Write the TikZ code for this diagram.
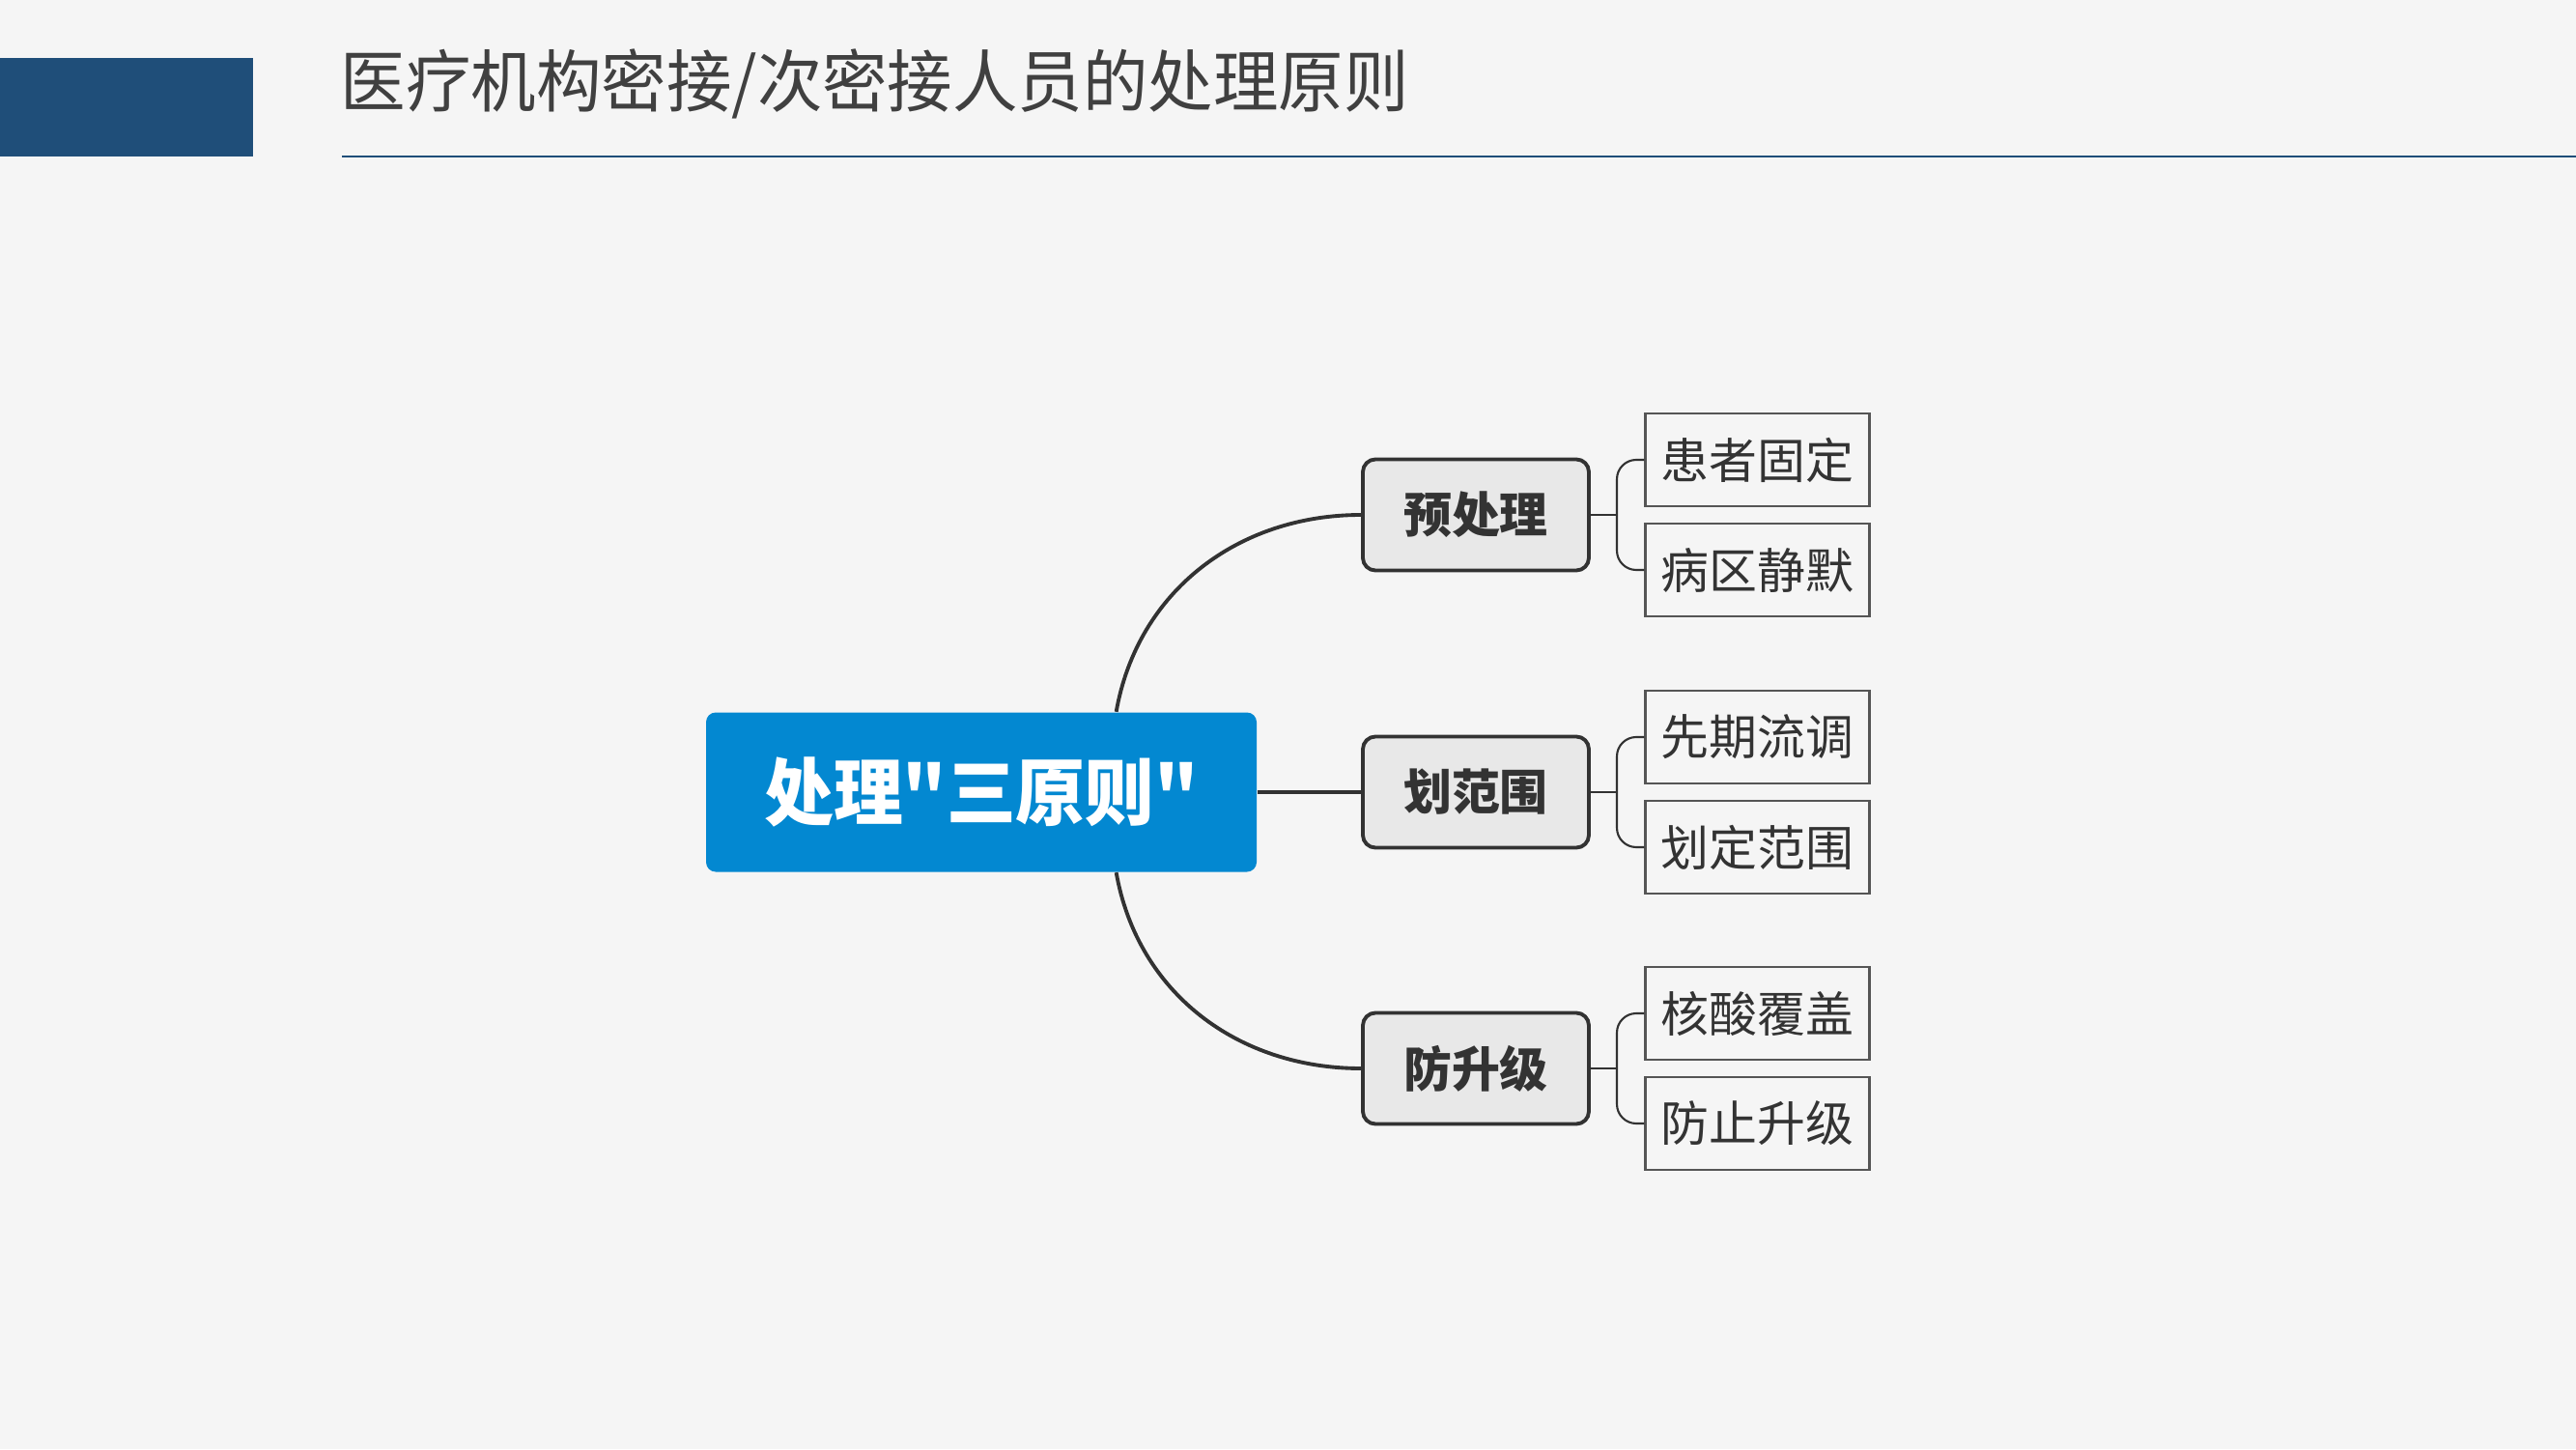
\documentclass[tikz,border=0pt]{standalone}
\usepackage{fontspec}
\setmainfont{Noto Sans CJK SC}
\newfontfamily\corefont{Noto Sans CJK SC}[Ligatures=TeXOff]

\definecolor{pagebg}{RGB}{245,245,245}
\definecolor{titleblue}{RGB}{31,78,121}
\definecolor{titlegray}{RGB}{64,64,64}
\definecolor{coreblue}{RGB}{3,136,209}
\definecolor{topicgray}{RGB}{232,232,232}
\definecolor{edgedark}{RGB}{50,50,50}
\definecolor{leafedge}{RGB}{85,85,85}
\definecolor{textdark}{RGB}{51,51,51}

\begin{document}
\begin{tikzpicture}[
  core/.style={fill=coreblue,rounded corners=0.1cm,minimum width=6.0cm,minimum height=1.65cm,
    text=white,font=\corefont\bfseries\fontsize{21.5}{26}\selectfont},
  topic/.style={draw=edgedark,line width=1.1pt,fill=topicgray,rounded corners=0.13cm,
    minimum width=2.34cm,minimum height=1.15cm,text=textdark,font=\bfseries\fontsize{14.2}{17}\selectfont},
  leaf/.style={draw=leafedge,line width=0.6pt,fill=pagebg,minimum width=2.32cm,minimum height=0.96cm,
    text=textdark,font=\fontsize{14.2}{17}\selectfont},
  branch/.style={draw=edgedark,line width=1.1pt},
  twig/.style={draw=edgedark,line width=0.6pt,rounded corners=0.2cm}
]
% Page and heading
\useasboundingbox (0,0) rectangle (26.67,15);
\fill[pagebg] (0,0) rectangle (26.67,15);
\fill[titleblue] (0,13.38) rectangle (2.62,14.40);
\draw[titleblue,line width=0.6pt] (3.54,13.38)--(26.67,13.38);
\node[anchor=west,inner sep=0,xscale=0.96,transform shape,text=titlegray,font=\fontsize{20}{24}\selectfont] (title) at (3.52,14.13) {医疗机构密接/次密接人员的处理原则};
% Centre
\node[core,xscale=0.95,transform shape] (core) at (10.16,6.80) {处理"三原则"};
% Topics
\node[topic] (prep) at (15.28,9.67) {预处理};
\node[topic] (zone) at (15.28,6.80) {划范围};
\node[topic] (guard) at (15.28,3.94) {防升级};
% Leaves
\node[leaf] (prepA) at (18.195,10.24) {患者固定};
\node[leaf] (prepB) at (18.195,9.10) {病区静默};
\node[leaf] (zoneA) at (18.195,7.37) {先期流调};
\node[leaf] (zoneB) at (18.195,6.23) {划定范围};
\node[leaf] (guardA) at (18.195,4.51) {核酸覆盖};
\node[leaf] (guardB) at (18.195,3.37) {防止升级};
% Branches
\draw[branch] ([xshift=-1.46cm]core.north east) to [out=80,in=180] (prep.west);
\draw[branch] (core.east)--(zone.west);
\draw[branch] ([xshift=-1.46cm]core.south east) to [out=-80,in=180] (guard.west);
% Brackets
\coordinate (prepJ) at (16.74,9.67);
\coordinate (zoneJ) at (16.74,6.80);
\coordinate (guardJ) at (16.74,3.94);
\draw[twig] (prep.east)--(prepJ);
\draw[twig] (prepA.west) -| (prepJ) |- (prepB.west);
\draw[twig] (zone.east)--(zoneJ);
\draw[twig] (zoneA.west) -| (zoneJ) |- (zoneB.west);
\draw[twig] (guard.east)--(guardJ);
\draw[twig] (guardA.west) -| (guardJ) |- (guardB.west);
\end{tikzpicture}
\end{document}
